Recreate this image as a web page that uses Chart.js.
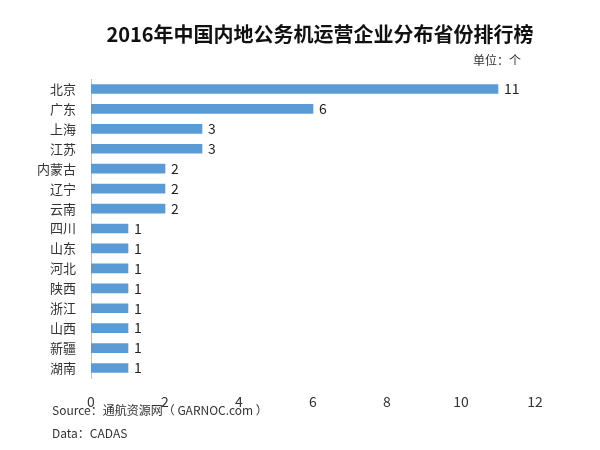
<!DOCTYPE html>
<html>
<head>
<meta charset="utf-8">
<script src="https://cdn.jsdelivr.net/npm/chart.js@4"></script>
<style>
    html, body { margin: 0; padding: 0; background: #fff; }
    #wrap { width: 600px; height: 450px; position: relative; }
</style>
</head>
<body>
<div id="wrap"><canvas id="rankChart"></canvas></div>
<script>
const provinces = ["北京", "广东", "上海", "江苏", "内蒙古", "辽宁", "云南", "四川", "山东", "河北", "陕西", "浙江", "山西", "新疆", "湖南"];
const companyCounts = [11, 6, 3, 3, 2, 2, 2, 1, 1, 1, 1, 1, 1, 1, 1];
const xTicks = [0, 2, 4, 6, 8, 10, 12];

const titleText = "2016年中国内地公务机运营企业分布省份排行榜";
const unitText = "单位：个";
const sourceText = "Source：通航资源网（ GARNOC.com ）";
const dataText = "Data：CADAS";

const cjkFont = "'Noto Sans CJK SC', 'Noto Sans', sans-serif";

// value labels at the end of each bar + the free texts around the chart
const textPlugin = {
    id: "textPlugin",
    afterDatasetsDraw(chart) {
        const ctx = chart.ctx;
        const meta = chart.getDatasetMeta(0);
        ctx.save();
        ctx.font = "14px " + cjkFont;
        ctx.fillStyle = "#222";
        ctx.textAlign = "left";
        ctx.textBaseline = "middle";
        meta.data.forEach((bar, i) => {
            ctx.fillText(companyCounts[i], bar.x + 6, bar.y);
        });

        ctx.font = "bold 20px " + cjkFont;
        ctx.fillStyle = "#111";
        ctx.textAlign = "center";
        ctx.fillText(titleText, 320, 34);

        ctx.font = "12px " + cjkFont;
        ctx.fillStyle = "#333";
        ctx.textAlign = "right";
        ctx.fillText(unitText, 521, 60);

        ctx.textAlign = "left";
        ctx.fillText(sourceText, 52, 410);
        ctx.fillText(dataText, 52, 433);
        ctx.restore();
    }
};

new Chart(document.getElementById("rankChart"), {
    type: "bar",
    data: {
        labels: provinces,
        datasets: [{
            data: companyCounts,
            backgroundColor: "#5b9bd5",
            barThickness: 9
        }]
    },
    options: {
        indexAxis: "y",
        responsive: true,
        maintainAspectRatio: false,
        animation: false,
        layout: { padding: { top: 79, right: 65, left: 0, bottom: 0 } },
        plugins: {
            legend: { display: false },
            tooltip: { enabled: false }
        },
        scales: {
            x: {
                min: 0,
                max: 12,
                afterBuildTicks(scale) {
                    scale.ticks = xTicks.map(v => ({ value: v }));
                },
                afterFit(scale) { scale.height = 72; },
                grid: { display: false, drawTicks: false },
                border: { display: false },
                ticks: {
                    padding: 15,
                    color: "#333",
                    font: { size: 14, family: cjkFont }
                }
            },
            y: {
                afterFit(scale) { scale.width = 91; },
                grid: { display: false, drawTicks: false },
                border: { display: true, color: "#bfbfbf", width: 1 },
                ticks: {
                    padding: 15,
                    color: "#333",
                    font: { size: 13, family: cjkFont }
                }
            }
        }
    },
    plugins: [textPlugin]
});
</script>
</body>
</html>
